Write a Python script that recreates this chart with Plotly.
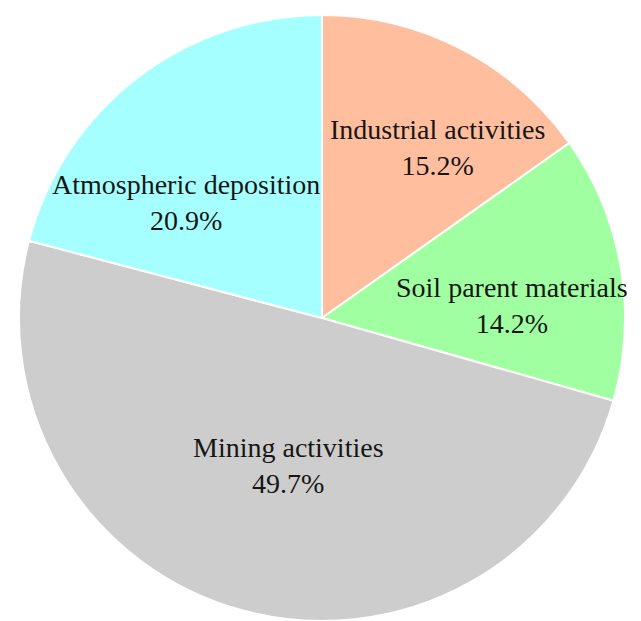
import math
import plotly.graph_objects as go

sources = ["Industrial activities", "Soil parent materials", "Mining activities", "Atmospheric deposition"]
shares = [15.2, 14.2, 49.7, 20.9]
slice_colors = ["#FFBF9F", "#A0FFA0", "#CDCDCD", "#A6FFFF"]

# label placement: (angle offset from slice mid-angle in degrees, radius fraction)
label_offsets = [(6.8, 0.68), (6.1, 0.63), (-2.4, 0.50), (-12.1, 0.59)]

W, H = 641, 621
dom_x = [0.0296, 0.975]
dom_y = [0.0, 0.9758]

fig = go.Figure(
    go.Pie(
        labels=sources,
        values=shares,
        sort=False,
        direction="clockwise",
        rotation=0,
        marker=dict(colors=slice_colors, line=dict(color="white", width=2)),
        textinfo="none",
        domain=dict(x=dom_x, y=dom_y),
        showlegend=False,
        hoverinfo="label+percent",
    )
)

# pie geometry in pixels
cx = (dom_x[0] + dom_x[1]) / 2 * W
cy = (1 - (dom_y[0] + dom_y[1]) / 2) * H
radius = min((dom_x[1] - dom_x[0]) * W, (dom_y[1] - dom_y[0]) * H) / 2

total = sum(shares)
start = 0.0
for name, val, (d_ang, frac) in zip(sources, shares, label_offsets):
    mid = (start + val / 2) / total * 360.0
    start += val
    ang = math.radians(mid + d_ang)
    px = cx + frac * radius * math.sin(ang)
    py = cy - frac * radius * math.cos(ang)
    fig.add_annotation(
        x=px / W,
        y=1 - py / H,
        xref="paper",
        yref="paper",
        text=f"{name}<br>{val:.1f}%",
        showarrow=False,
        xanchor="center",
        yanchor="middle",
        align="center",
        font=dict(family="Liberation Serif, Times New Roman, serif", size=28, color="#161616"),
    )

fig.update_layout(
    width=W,
    height=H,
    margin=dict(l=0, r=0, t=0, b=0),
    paper_bgcolor="white",
    plot_bgcolor="white",
)

fig.write_html("out.html")
